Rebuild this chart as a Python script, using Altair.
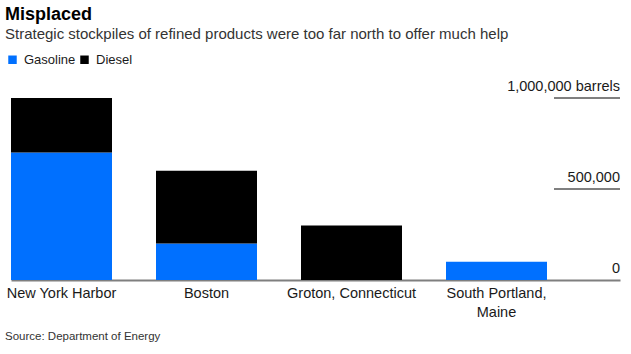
import altair as alt
import pandas as pd

locations = ["New York Harbor", "Boston", "Groton, Connecticut", "South Portland, Maine"]
gasoline = [700000, 200000, 0, 100000]
diesel = [300000, 400000, 300000, 0]
products = ["Gasoline", "Diesel"]
colors = ["#0070ff", "#000000"]
tick_values = [0, 500000, 1000000]
tick_labels = ["0", "500,000", "1,000,000 barrels"]
source = ["Source: Department of Energy"]

rows = []
for loc, g, d in zip(locations, gasoline, diesel):
    rows.append({"location": loc, "product": "Gasoline", "value": g, "order": 0})
    rows.append({"location": loc, "product": "Diesel", "value": d, "order": 1})
df = pd.DataFrame(rows)
ticks = pd.DataFrame({"v": tick_values, "label": tick_labels})
grid = ticks[ticks["v"] > 0]
src = pd.DataFrame({"t": source})

FONT = "Liberation Sans"

yscale = alt.Scale(domain=[0, 1000000], nice=False)

bars = alt.Chart(df).mark_bar(size=101).encode(
    x=alt.X("location:N", sort=locations, title=None,
            scale=alt.Scale(paddingInner=0.3034, paddingOuter=0.2517, align=0),
            axis=alt.Axis(labelAngle=0, ticks=False, domainColor="#7f7f7f", domainWidth=2,
                          labelFont=FONT, labelFontSize=14.5, labelColor="#1a1a1a",
                          labelPadding=6, labelLineHeight=19, labelBaseline="top",
                          labelExpr="datum.value == 'South Portland, Maine' ? ['South Portland,', 'Maine'] : datum.label")),
    y=alt.Y("value:Q", stack="zero", scale=yscale, axis=None),
    color=alt.Color("product:N", scale=alt.Scale(domain=products, range=colors),
                    legend=alt.Legend(title=None, orient="none", direction="horizontal",
                                      legendX=-5, legendY=-45, symbolType="square",
                                      symbolSize=72, symbolStrokeWidth=0, labelFont=FONT,
                                      labelFontSize=13, labelColor="#1a1a1a", columnPadding=2,
                                      labelOffset=5)),
    order=alt.Order("order:Q"),
)

rules = alt.Chart(grid).mark_rule(color="#000000", strokeWidth=1).encode(
    x=alt.value(543), x2=alt.value(609), y=alt.Y("v:Q", scale=yscale)
)

labels = alt.Chart(ticks).mark_text(align="right", baseline="alphabetic", dy=-7,
                                     font=FONT, fontSize=14.5, color="#1a1a1a").encode(
    x=alt.value(609), y=alt.Y("v:Q", scale=yscale), text="label:N"
)

src_text = alt.Chart(src).mark_text(align="left", baseline="alphabetic", font=FONT,
                                     fontSize=11.5, color="#333333").encode(
    x=alt.value(-6), y=alt.value(242), text="t:N"
)

chart = alt.layer(bars, rules, labels, src_text).properties(
    width=609, height=182,
    title=alt.Title("Misplaced", subtitle="Strategic stockpiles of refined products were too far north to offer much help",
                    anchor="start", frame="group", dx=-6, offset=11,
                    font=FONT, fontSize=18, fontWeight="bold", color="#000000",
                    subtitleFont=FONT, subtitleFontSize=15, subtitleColor="#333333", subtitlePadding=3),
    autosize=alt.AutoSizeParams(type="none"),
    padding={"left": 11, "top": 98, "right": 11, "bottom": 74},
).configure_view(stroke=None)

chart.save("out.html", embed_options={"renderer": "svg", "actions": False})
